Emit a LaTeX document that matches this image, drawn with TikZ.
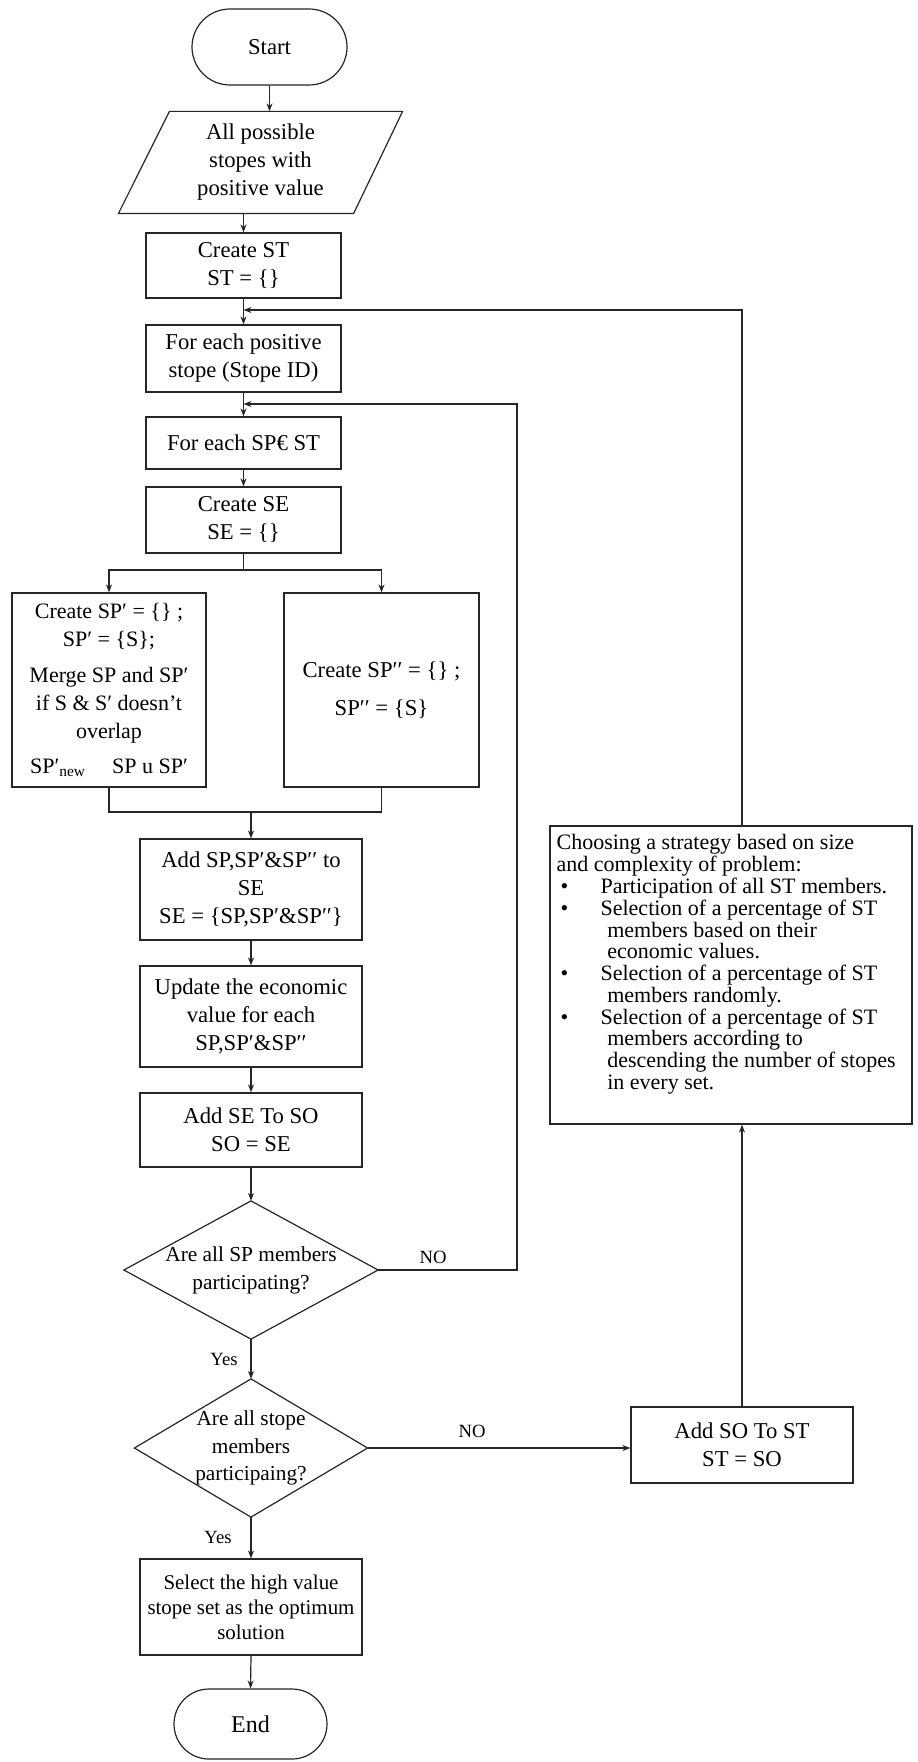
\documentclass[tikz,border=0pt]{standalone}
\usepackage{fontspec}
\setmainfont{Liberation Serif}
\usetikzlibrary{arrows.meta,calc}
\begin{document}
\begin{tikzpicture}[x=0.75pt,y=-0.75pt,line width=0.9pt,
  box/.style={draw=black!85,rectangle,align=center,inner sep=1pt,font=\fontsize{17}{21}\selectfont},
  plain/.style={inner sep=0pt,align=center},
  lbl/.style={inner sep=0pt,font=\fontsize{14}{16}\selectfont},
  arr/.style={draw=black!85,-{Stealth[length=6pt,width=4.5pt]}},
  ln/.style={draw=black!85}]
\fill[white] (0,0) rectangle (917,1762);
\useasboundingbox (0,0) rectangle (917,1762);

% main column
\node[box,rounded corners=28.5pt,minimum width=116.25pt,minimum height=57pt] (start) at (269.5,47) {Start};
\node[plain,minimum width=212.25pt,minimum height=75.75pt,font=\fontsize{17}{21}\selectfont] (inp) at (260.5,162.5) {All possible\\stopes with\\positive value};
\draw[ln] ($(inp.north west)+(51,0)$) -- (inp.north east) -- ($(inp.south east)+(-49,0)$) -- (inp.south west) -- cycle;
\node[box,minimum width=146.25pt,minimum height=48.75pt] (cst) at (243.5,265.5) {Create ST\\ST = \{\}};
\node[box,minimum width=146.25pt,minimum height=50.25pt] (fpos) at (243.5,358.5) {For each positive\\stope (Stope ID)};
\node[box,minimum width=146.25pt,minimum height=39pt] (fsp) at (243.5,443) {For each SP€ ST};
\node[box,minimum width=146.25pt,minimum height=49.5pt] (cse) at (243.5,520) {Create SE\\SE = \{\}};
\node[box,minimum width=145.5pt,minimum height=145.5pt,font=\fontsize{16.5}{21}\selectfont] (left) at (109,690) {Create SP′ = \{\} ;\\SP′ = \{S\};\\[6pt]Merge SP and SP′\\if S \& S′ doesn’t\\overlap\\[5pt]SP′\textsubscript{new}\hspace{1.2em}SP u SP′};
\node[box,minimum width=146.25pt,minimum height=145.5pt] (right) at (381.5,690) {Create SP′′ = \{\} ;\\[8pt]SP′′ = \{S\}};
\node[box,minimum width=166.5pt,minimum height=75.75pt] (addsp) at (251,889.5) {Add SP,SP′\&SP′′ to\\SE\\SE = \{SP,SP′\&SP′′\}};
\node[box,minimum width=166.5pt,minimum height=75.75pt] (upd) at (251,1016.5) {Update the economic\\value for each\\SP,SP′\&SP′′};
\node[box,minimum width=166.5pt,minimum height=55.5pt] (addso) at (251,1130) {Add SE To SO\\SO = SE};
\node[plain,minimum width=189.75pt,minimum height=102.75pt,font=\fontsize{16}{21}\selectfont] (d1) at (251,1270) {Are all SP members\\participating?};
\draw[ln] (d1.north) -- (d1.east) -- (d1.south) -- (d1.west) -- cycle;
\node[plain,minimum width=174pt,minimum height=102.75pt,font=\fontsize{16}{20.6}\selectfont] (d2) at (251,1448) {Are all stope\\members\\participaing?};
\draw[ln] (d2.north) -- (d2.east) -- (d2.south) -- (d2.west) -- cycle;
\node[box,minimum width=166.5pt,minimum height=72pt,font=\fontsize{15.7}{18.75}\selectfont] (sel) at (251,1607) {Select the high value\\stope set as the optimum\\solution};
\node[box,rounded corners=26.25pt,minimum width=114.75pt,minimum height=52.5pt,font=\fontsize{18}{21}\selectfont] (end) at (250.5,1724) {End};

% right column
\node[box,minimum width=166.5pt,minimum height=57pt] (addst) at (742,1445) {Add SO To ST\\ST = SO};
\node[draw=black!85,rectangle,minimum width=271.5pt,minimum height=223.5pt,inner sep=0pt] (strat) at (731,975) {};
\node[anchor=north west,inner sep=0pt,align=left,font=\fontsize{16.5}{16}\selectfont] (strattext) at (556,834) {%
\begin{tabular}{@{}p{33pt}@{}l@{}}
\multicolumn{2}{@{}l@{}}{Choosing a strategy based on size}\\
\multicolumn{2}{@{}l@{}}{and complexity of problem:}\\
\hspace{3pt}• & Participation of all ST members.\\
\hspace{3pt}• & Selection of a percentage of ST\\
 & \hspace{5pt}members based on their\\
 & \hspace{5pt}economic values.\\
\hspace{3pt}• & Selection of a percentage of ST\\
 & \hspace{5pt}members randomly.\\
\hspace{3pt}• & Selection of a percentage of ST\\
 & \hspace{5pt}members according to\\
 & \hspace{5pt}descending the number of stopes\\
 & \hspace{5pt}in every set.
\end{tabular}};

% connectors
\draw[arr] (start.south) -- (start.south |- inp.north);
\draw[arr] (cst.north |- inp.south) -- (cst.north);
\draw[arr] (cst.south) -- (fpos.north);
\draw[arr] (fpos.south) -- (fsp.north);
\draw[arr] (fsp.south) -- (cse.north);
\coordinate (split) at (243.5,570);
\draw[ln] (cse.south) -- (split);
\draw[arr] (split) -| (left.north);
\draw[arr] (split) -| (right.north);
\coordinate (merge) at (251,812);
\draw[ln] (left.south) |- (merge);
\draw[ln] (right.south) |- (merge);
\draw[arr] (merge) -- (addsp.north);
\draw[arr] (addsp.south) -- (upd.north);
\draw[arr] (upd.south) -- (addso.north);
\draw[arr] (addso.south) -- (d1.north);
\draw[arr] (d1.south) -- (d2.north);
\draw[arr] (d2.south) -- (sel.north);
\draw[arr] (sel.south) -- (end.north);
\draw[arr] (d2.east) -- (d2.east -| addst.west);
\coordinate (fb2) at (243.5,404);
\coordinate (nocorner) at (517,1270);
\draw[arr] (d1.east) -- (nocorner) |- (fb2);
\draw[arr] (addst.north) -- (addst.north |- strat.south);
\coordinate (fb1) at (243.5,310);
\draw[arr] (addst.north |- strat.north) |- (fb1);

% labels
\node[lbl] (no1) at (433,1257) {NO};
\node[lbl] (yes1) at (224,1359) {Yes};
\node[lbl] (no2) at (472,1431) {NO};
\node[lbl] (yes2) at (218,1537) {Yes};
\end{tikzpicture}
\end{document}
